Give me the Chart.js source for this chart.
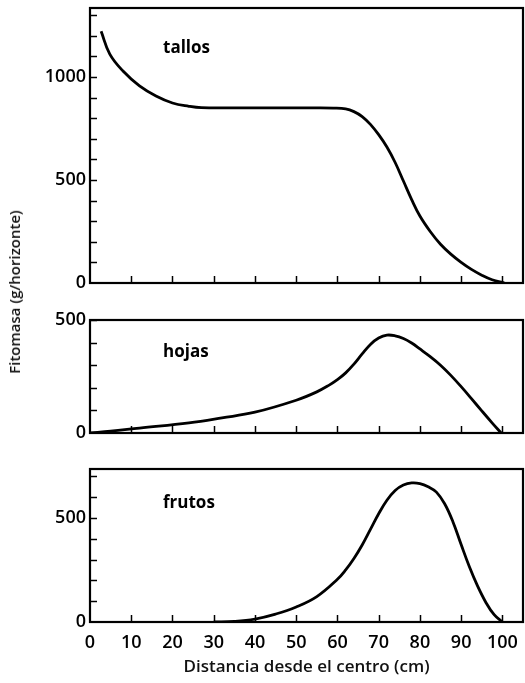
<!DOCTYPE html>
<html>
<head>
<meta charset="utf-8">
<script src="https://cdn.jsdelivr.net/npm/chart.js@4.4.0/dist/chart.umd.min.js"></script>
<style>
body{margin:0;background:#fff;width:525px;height:683px;position:relative;overflow:hidden;font-family:"Open Sans",sans-serif}
canvas{position:absolute;left:0}
#ytitle{position:absolute;left:14px;top:292px;transform:translate(-50%,-50%) rotate(-90deg);white-space:nowrap;font-weight:600;font-size:15px;color:#111}
</style>
</head>
<body>
<canvas id="c1" width="525" height="295" style="top:0"></canvas>
<canvas id="c2" width="525" height="140" style="top:300px"></canvas>
<canvas id="c3" width="525" height="238" style="top:445px"></canvas>
<div id="ytitle">Fitomasa (g/horizonte)</div>
<script>
// distancia (cm) y fitomasa (g/horizonte)
var tallosX = [2.7, 4.8, 8, 12, 16, 20, 24, 27, 35, 45, 55, 59, 62, 64, 66, 68, 70, 72, 74, 76, 78, 80, 82.5, 85, 87.5, 90, 92.5, 95, 97.5, 100.5]
var tallosY = [1222, 1111, 1029, 957, 908, 874, 858, 851, 850, 850, 850, 849, 845, 832, 808, 770, 720, 660, 585, 495, 405, 325, 250, 188, 140, 100, 66, 38, 16, 0]

var hojasX = [0, 5, 12, 24, 32, 40, 50, 55, 58, 60, 62, 64, 66, 68, 70, 72, 74, 76, 78, 80, 82.5, 85, 87.5, 90, 92.5, 95, 97.5, 99.7]
var hojasY = [0, 8, 22, 45, 67, 92, 145, 182, 212, 236, 266, 305, 350, 392, 420, 433, 430, 418, 398, 372, 338, 300, 255, 205, 152, 98, 45, 0]

var frutosX = [30, 35, 40, 45, 50, 55, 60, 62, 64, 66, 68, 70, 72, 74, 76, 78, 80, 82, 84, 86, 88, 90, 92, 94, 96, 98, 100]
var frutosY = [0, 3, 14, 38, 72, 122, 205, 250, 305, 370, 445, 520, 585, 632, 658, 668, 665, 650, 624, 568, 482, 372, 265, 172, 94, 35, 0]

var tallosTicks = [0, 500, 1000]
var hojasTicks = [0, 500]
var frutosTicks = [0, 500]
var xTicks = [0, 10, 20, 30, 40, 50, 60, 70, 80, 90, 100]

var tickFont = {family: 'Open Sans', size: 18, weight: 600}

// marco, marcas hacia dentro y nombre del panel
var marcas = {
    id: 'marcas',
    afterDraw: function(chart, args, opts) {
        var ctx = chart.ctx, a = chart.chartArea
        var xs = chart.scales.x, ys = chart.scales.y
        ctx.save()
        ctx.strokeStyle = '#000'
        ctx.lineWidth = 1.5
        xs.ticks.forEach(function(t) {
            if (t.value <= 0) return
            var px = Math.round(xs.getPixelForValue(t.value)) + 0.5
            ctx.beginPath(); ctx.moveTo(px, a.bottom); ctx.lineTo(px, a.bottom - 7); ctx.stroke()
        })
        ys.ticks.forEach(function(t) {
            if (t.value <= 0) return
            var py = Math.round(ys.getPixelForValue(t.value)) + 0.5
            ctx.beginPath(); ctx.moveTo(a.left, py); ctx.lineTo(a.left + 7, py); ctx.stroke()
        })
        ctx.lineWidth = 2.2
        ctx.strokeRect(a.left, a.top, a.right - a.left, a.bottom - a.top)
        ctx.fillStyle = '#000'
        ctx.font = 'bold 17px "Open Sans"'
        ctx.textBaseline = 'middle'
        ctx.fillText(opts.name, a.left + 73, a.top + opts.dy)
        ctx.restore()
    }
}

function hacerGrafica(id, xs, ys, yMax, yLabels, name, dy, pad, bottomAxis) {
    var pts = xs.map(function(x, i) { return {x: x, y: ys[i]} })
    return new Chart(document.getElementById(id), {
        type: 'line',
        data: {datasets: [{
            data: pts,
            borderColor: '#000',
            borderWidth: 2.8,
            pointRadius: 0,
            fill: false,
            tension: 0.4
        }]},
        options: {
            responsive: false,
            animation: false,
            devicePixelRatio: 1,
            layout: {padding: pad},
            plugins: {legend: {display: false}, tooltip: {enabled: false}, marcas: {name: name, dy: dy}},
            scales: {
                x: {
                    type: 'linear', min: 0, max: 105,
                    grid: {display: false}, border: {display: false},
                    ticks: {
                        display: bottomAxis, stepSize: 10, includeBounds: false, autoSkip: false,
                        maxRotation: 0, padding: 2, color: '#000', font: tickFont,
                        callback: function(v) { return xTicks.indexOf(v) >= 0 ? String(v) : '' }
                    },
                    title: {
                        display: bottomAxis, text: 'Distancia desde el centro (cm)', color: '#111',
                        font: {family: 'Open Sans', size: 17, weight: 600}, padding: {top: 0, bottom: 6}
                    },
                    afterFit: function(s) { s.height = bottomAxis ? 61 : 0; s.paddingLeft = 0; s.paddingRight = 0 }
                },
                y: {
                    min: 0, max: yMax,
                    grid: {display: false, drawTicks: false}, border: {display: false},
                    ticks: {
                        stepSize: 100, includeBounds: false, autoSkip: false, padding: 4,
                        color: '#000', font: tickFont,
                        callback: function(v) { return yLabels.indexOf(v) >= 0 ? String(v) : '' }
                    },
                    afterFit: function(s) { s.width = 90; s.paddingTop = 0; s.paddingBottom = 0 }
                }
            }
        },
        plugins: [marcas]
    })
}

hacerGrafica('c1', tallosX, tallosY, 1335, tallosTicks, 'tallos', 40, {top: 8, bottom: 12, left: 0, right: 2}, false)
hacerGrafica('c2', hojasX, hojasY, 500, hojasTicks, 'hojas', 32, {top: 20, bottom: 7, left: 0, right: 2}, false)
hacerGrafica('c3', frutosX, frutosY, 735, frutosTicks, 'frutos', 34, {top: 24, bottom: 0, left: 0, right: 2}, true)
</script>
</body>
</html>
